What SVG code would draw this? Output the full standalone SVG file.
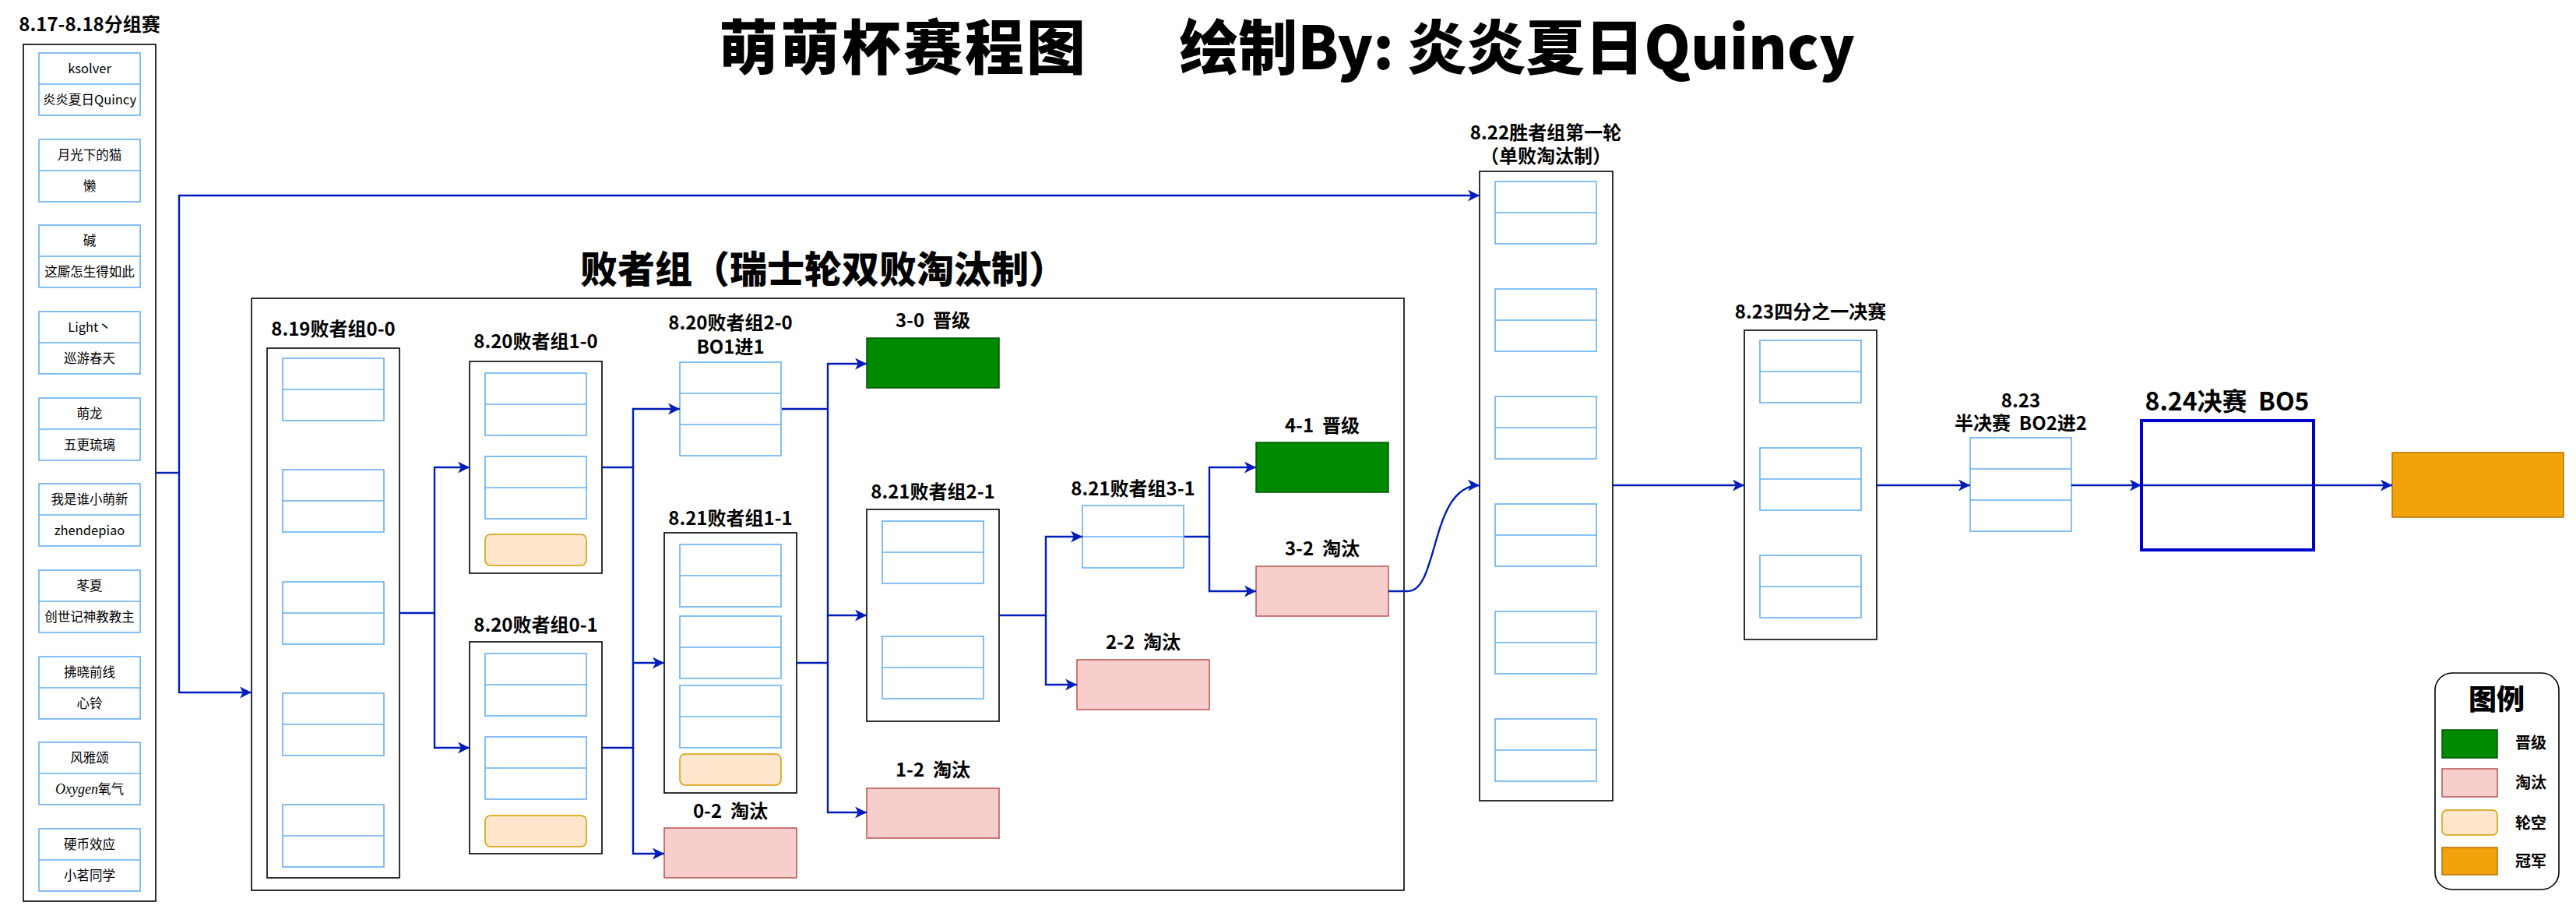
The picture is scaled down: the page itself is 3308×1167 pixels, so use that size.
<svg xmlns="http://www.w3.org/2000/svg" xmlns:xlink="http://www.w3.org/1999/xlink" width="3308" height="1167" viewBox="0 0 3308 1167">
<style>
.bg{fill:#ffffff}
.grp{fill:#ffffff;stroke:#000000;stroke-width:1.6}
.cell{fill:#ffffff;stroke:#66AFF5;stroke-width:1.6}
.cline{stroke:#66AFF5;stroke-width:1.6}
.win{fill:#008a00;stroke:#005700;stroke-width:1.5}
.lose{fill:#f8cecc;stroke:#b85450;stroke-width:1.5}
.bye{fill:#ffe6cc;stroke:#d79b00;stroke-width:1.5}
.champ{fill:#f0a30a;stroke:#BD7000;stroke-width:1.5}
.final{fill:none;stroke:#0000CC;stroke-width:4}
.edge{fill:none;stroke:#001DBC;stroke-width:2.4;marker-end:url(#arrow)}
.edge0{fill:none;stroke:#001DBC;stroke-width:2.4}
.t{font-family:"Noto Sans CJK SC","Noto Sans",sans-serif;font-weight:700;fill:#000;text-anchor:middle}
.h1{font-size:76px;font-weight:900}
.h2{font-size:48px;font-weight:900}
.h3{font-size:24px}
.h4{font-size:32px}
.lg{font-size:36px;font-weight:900}
.ll{font-size:20px}
.c{font-family:"Noto Sans CJK SC","Noto Sans",sans-serif;font-size:16.5px;fill:#000;text-anchor:middle}
</style>
<defs>
<marker id="arrow" markerUnits="userSpaceOnUse" markerWidth="15" markerHeight="15" viewBox="0 0 15 15" refX="15" refY="7.5" orient="auto">
<path d="M0,0 L15,7.5 L0,15 L4,7.5 Z" fill="#001DBC"/>
</marker>
<g id="pair"><rect class="cell" x="0" y="0" width="130" height="80"/><line class="cline" x1="0" y1="40" x2="130" y2="40"/></g>
<g id="trio"><rect class="cell" x="0" y="0" width="130" height="120"/><line class="cline" x1="0" y1="40" x2="130" y2="40"/><line class="cline" x1="0" y1="80" x2="130" y2="80"/></g>
</defs>
<rect class="bg" x="0" y="0" width="3308" height="1167"/>

<g id="title">
<text class="t h1" x="1160" y="89" letter-spacing="3">萌萌杯赛程图</text>
<text class="t h1" x="1948" y="89">绘制By: 炎炎夏日Quincy</text>
</g>

<g id="groupstage">
<text class="t h3" x="115" y="40">8.17-8.18分组赛</text>
<rect class="grp" x="30" y="57" width="170" height="1100"/>
<use href="#pair" x="50" y="68"/><text class="c" x="115" y="94">ksolver</text><text class="c" x="115" y="134">炎炎夏日Quincy</text>
<use href="#pair" x="50" y="179"/><text class="c" x="115" y="205">月光下的猫</text><text class="c" x="115" y="245">懒</text>
<use href="#pair" x="50" y="289"/><text class="c" x="115" y="315">碱</text><text class="c" x="115" y="355">这厮怎生得如此</text>
<use href="#pair" x="50" y="400"/><text class="c" x="115" y="426">Light丶</text><text class="c" x="115" y="466">巡游春天</text>
<use href="#pair" x="50" y="511"/><text class="c" x="115" y="537">萌龙</text><text class="c" x="115" y="577">五更琉璃</text>
<use href="#pair" x="50" y="621"/><text class="c" x="115" y="647">我是谁小萌新</text><text class="c" x="115" y="687">zhendepiao</text>
<use href="#pair" x="50" y="732"/><text class="c" x="115" y="758">苳夏</text><text class="c" x="115" y="798">创世记神教教主</text>
<use href="#pair" x="50" y="843"/><text class="c" x="115" y="869">拂晓前线</text><text class="c" x="115" y="909">心铃</text>
<use href="#pair" x="50" y="953"/><text class="c" x="115" y="979">风雅颂</text><text class="c" x="115" y="1019"><tspan font-family="'Liberation Serif',serif" font-style="italic" font-size="18">Oxygen</tspan>氧气</text>
<use href="#pair" x="50" y="1064"/><text class="c" x="115" y="1090">硬币效应</text><text class="c" x="115" y="1130">小茗同学</text>
</g>

<g id="losers">
<text class="t h2" x="1057" y="363">败者组（瑞士轮双败淘汰制）</text>
<rect class="grp" x="323" y="383" width="1480" height="760"/>
</g>

<g id="l00">
<text class="t h3" x="428" y="431">8.19败者组0-0</text>
<rect class="grp" x="343" y="447" width="170" height="680"/>
<use href="#pair" x="363" y="460"/><use href="#pair" x="363" y="603"/><use href="#pair" x="363" y="747"/><use href="#pair" x="363" y="890"/><use href="#pair" x="363" y="1033"/>
</g>

<g id="l10">
<text class="t h3" x="688" y="447">8.20败者组1-0</text>
<rect class="grp" x="603" y="464" width="170" height="272"/>
<use href="#pair" x="623" y="479"/><use href="#pair" x="623" y="586"/>
<rect class="bye" x="623" y="686" width="130" height="40" rx="7"/>
</g>

<g id="l01">
<text class="t h3" x="688" y="811">8.20败者组0-1</text>
<rect class="grp" x="603" y="824" width="170" height="272"/>
<use href="#pair" x="623" y="839"/><use href="#pair" x="623" y="946"/>
<rect class="bye" x="623" y="1047" width="130" height="40" rx="7"/>
</g>

<g id="l20">
<text class="t h3" x="938" y="423">8.20败者组2-0</text>
<text class="t h3" x="938" y="454">BO1进1</text>
<use href="#trio" x="873" y="465"/>
</g>

<g id="l11">
<text class="t h3" x="938" y="674">8.21败者组1-1</text>
<rect class="grp" x="853" y="684" width="170" height="334"/>
<use href="#pair" x="873" y="699"/><use href="#pair" x="873" y="791"/><use href="#pair" x="873" y="880"/>
<rect class="bye" x="873" y="968" width="130" height="40" rx="7"/>
</g>

<g id="l02">
<text class="t h3" x="938" y="1050" xml:space="preserve">0-2  淘汰</text>
<rect class="lose" x="853" y="1063" width="170" height="64"/>
</g>

<g id="l30">
<text class="t h3" x="1198" y="420" xml:space="preserve">3-0  晋级</text>
<rect class="win" x="1113" y="434" width="170" height="64"/>
</g>

<g id="l21">
<text class="t h3" x="1198" y="640">8.21败者组2-1</text>
<rect class="grp" x="1113" y="654" width="170" height="272"/>
<use href="#pair" x="1133" y="669"/><use href="#pair" x="1133" y="817"/>
</g>

<g id="l12">
<text class="t h3" x="1198" y="997" xml:space="preserve">1-2  淘汰</text>
<rect class="lose" x="1113" y="1012" width="170" height="64"/>
</g>

<g id="l31">
<text class="t h3" x="1455" y="636">8.21败者组3-1</text>
<use href="#pair" x="1390" y="649"/>
</g>

<g id="l22">
<text class="t h3" x="1468" y="833" xml:space="preserve">2-2  淘汰</text>
<rect class="lose" x="1383" y="847" width="170" height="64"/>
</g>

<g id="l41">
<text class="t h3" x="1698" y="555" xml:space="preserve">4-1  晋级</text>
<rect class="win" x="1613" y="568" width="170" height="64"/>
</g>

<g id="l32">
<text class="t h3" x="1698" y="713" xml:space="preserve">3-2  淘汰</text>
<rect class="lose" x="1613" y="727" width="170" height="64"/>
</g>

<g id="winners">
<text class="t h3" x="1985" y="179">8.22胜者组第一轮</text>
<text class="t h3" x="1985" y="209">（单败淘汰制）</text>
<rect class="grp" x="1900" y="220" width="171" height="808"/>
<use href="#pair" x="1920" y="233"/><use href="#pair" x="1920" y="371"/><use href="#pair" x="1920" y="509"/><use href="#pair" x="1920" y="647"/><use href="#pair" x="1920" y="785"/><use href="#pair" x="1920" y="923"/>
</g>

<g id="quarter">
<text class="t h3" x="2325" y="409">8.23四分之一决赛</text>
<rect class="grp" x="2240" y="424" width="170" height="397"/>
<use href="#pair" x="2260" y="437"/><use href="#pair" x="2260" y="575"/><use href="#pair" x="2260" y="713"/>
</g>

<g id="semi">
<text class="t h3" x="2595" y="523">8.23</text>
<text class="t h3" x="2595" y="552" xml:space="preserve">半决赛  BO2进2</text>
<use href="#trio" x="2530" y="562"/>
</g>

<g id="champion">
<rect class="champ" x="3072" y="581" width="220" height="83"/>
</g>

<g id="connectors">
<path class="edge0" d="M200,607 H230"/>
<path class="edge" d="M230,607 V251 H1900"/>
<path class="edge" d="M230,607 V889 H323"/>
<path class="edge" d="M513,787 H558 V600 H603"/>
<path class="edge" d="M558,787 V960 H603"/>
<path class="edge" d="M773,600 H813 V525 H873"/>
<path class="edge" d="M813,600 V851 H853"/>
<path class="edge" d="M773,960 H813 V1096 H853"/>
<path class="edge0" d="M813,960 V851"/>
<path class="edge" d="M1004,525 H1063 V467 H1113"/>
<path class="edge" d="M1063,525 V790 H1113"/>
<path class="edge" d="M1023,851 H1063 V1043 H1113"/>
<path class="edge0" d="M1063,851 V790"/>
<path class="edge" d="M1283,790 H1343 V689 H1390"/>
<path class="edge" d="M1343,790 V879 H1383"/>
<path class="edge" d="M1521,689 H1553 V600 H1613"/>
<path class="edge" d="M1553,689 V759 H1613"/>
<path class="edge" d="M1783,759 H1808 C1848,759 1836,623 1900,623"/>
<path class="edge" d="M2071,623 H2240"/>
<path class="edge" d="M2410,623 H2530"/>
<path class="edge" d="M2660,623 H2750"/>
<path class="edge" d="M2750,623 H3072"/>
</g>

<g id="final">
<text class="t h4" x="2860" y="527" xml:space="preserve">8.24决赛  BO5</text>
<rect class="final" x="2750" y="540" width="221" height="166"/>
</g>

<g id="legend">
<rect class="grp" x="3127" y="864" width="159" height="278" rx="22"/>
<text class="t lg" x="3206" y="911">图例</text>
<rect class="win" x="3136" y="937" width="71" height="36"/>
<text class="t ll" x="3250" y="961">晋级</text>
<rect class="lose" x="3136" y="987" width="71" height="36"/>
<text class="t ll" x="3250" y="1012">淘汰</text>
<rect class="bye" x="3136" y="1040" width="71" height="32" rx="6"/>
<text class="t ll" x="3250" y="1064">轮空</text>
<rect class="champ" x="3136" y="1088" width="71" height="35"/>
<text class="t ll" x="3250" y="1113">冠军</text>
</g>
</svg>
